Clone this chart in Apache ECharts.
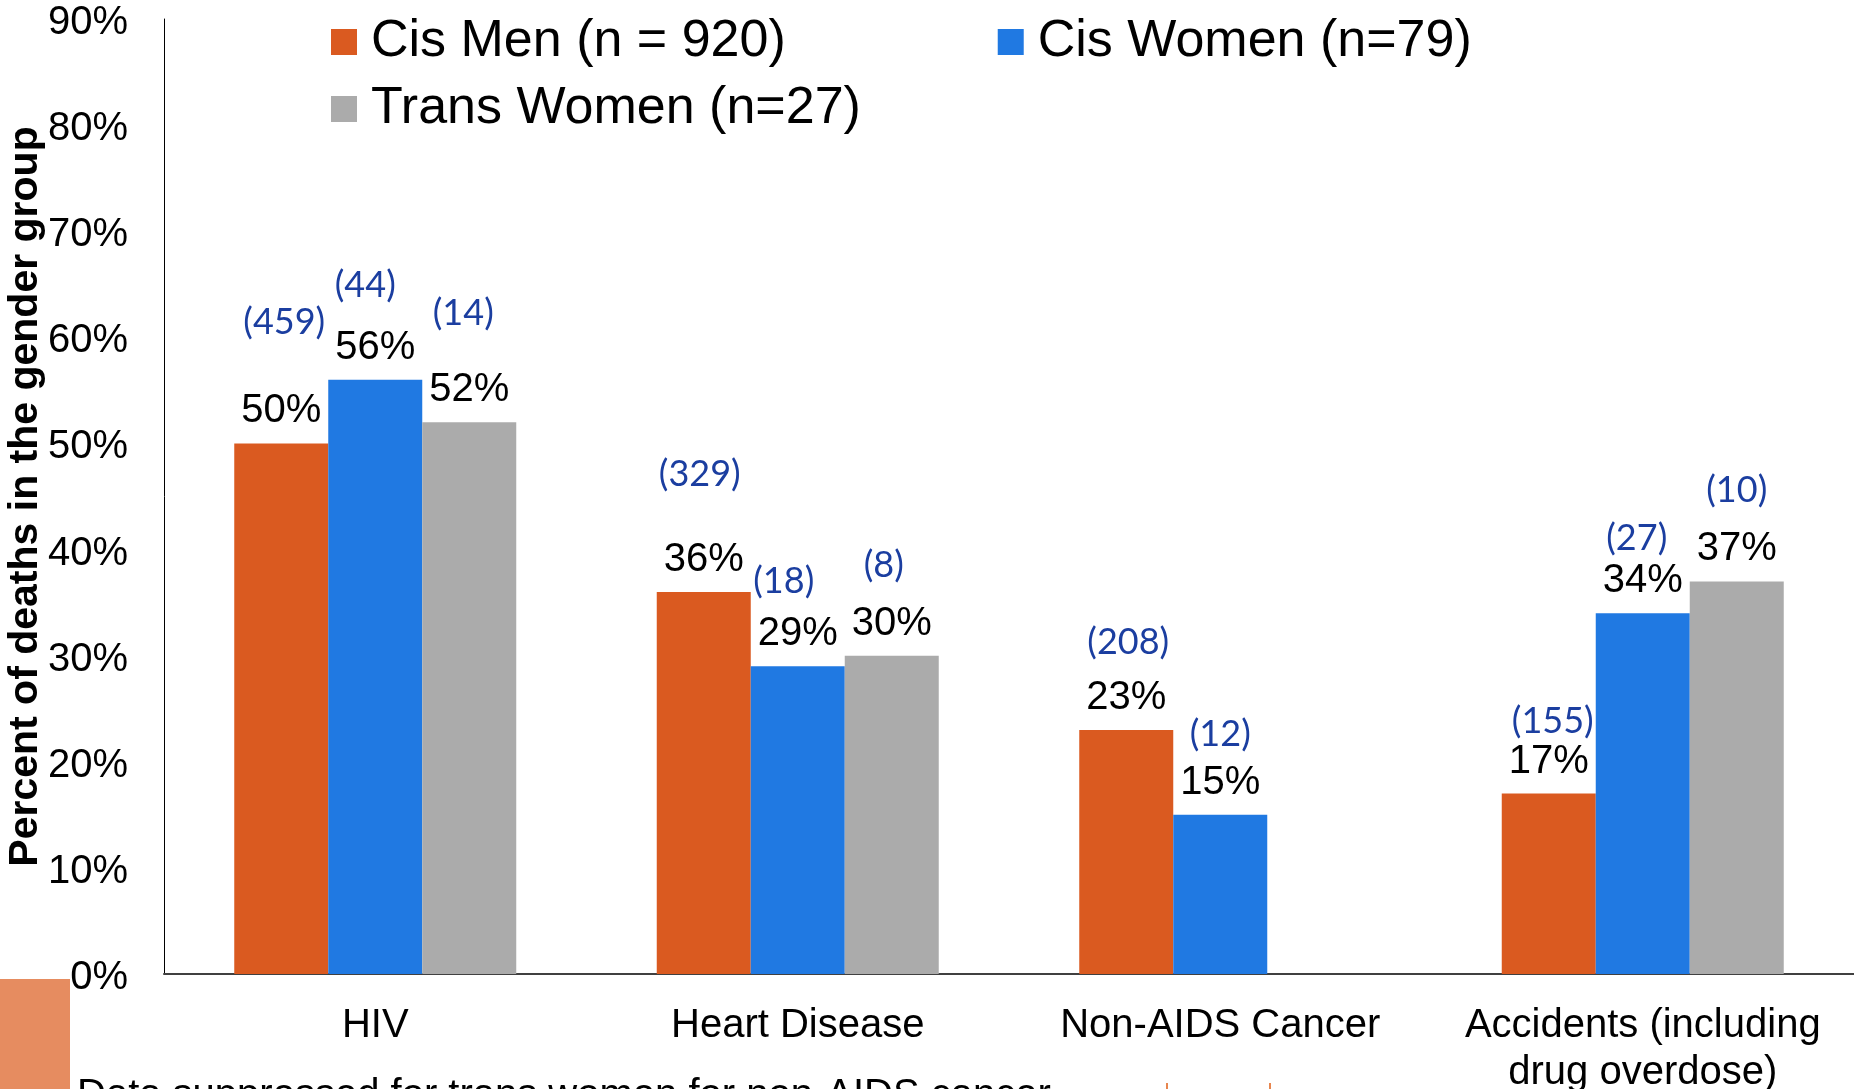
<!DOCTYPE html>
<html>
<head>
<meta charset="utf-8">
<script src="https://cdn.jsdelivr.net/npm/echarts@6/dist/echarts.min.js"></script>
<style>
html,body{margin:0;padding:0;background:#fff;overflow:hidden;}
#chart{width:1854px;height:1089px;}
</style>
</head>
<body>
<div id="chart"></div>
<script>
// ---- data ----
const categories = ['HIV', 'Heart Disease', 'Non-AIDS Cancer', 'Accidents (including\ndrug overdose)'];
const seriesNames = ['Cis Men (n = 920)', 'Cis Women (n=79)', 'Trans Women (n=27)'];
const cisMenPct = [50, 36, 23, 17];
const cisWomenPct = [56, 29, 15, 34];
const transWomenPct = [52, 30, null, 37];
const cisMenCount = [459, 329, 208, 155];
const cisWomenCount = [44, 18, 12, 27];
const transWomenCount = [14, 8, null, 10];
const yTickValues = [0, 10, 20, 30, 40, 50, 60, 70, 80, 90];

// ---- style (label nudges, not data) ----
const countLift = [[87, 84, 54, 38], [60, 51, 46, 41], [75, 56, 0, 57]];
const countShiftX = [[3, -4, 2, 4], [-10, -14, 0, -6], [-6, -8, 0, 0]];
const colors = ['#DA5A20', '#2079E2', '#ABABAB'];
const FONT = "'Liberation Sans', Arial, sans-serif";

const pctData = [cisMenPct, cisWomenPct, transWomenPct];
const countData = [cisMenCount, cisWomenCount, transWomenCount];
const stacks = ['m', 'w', 't'];

const series = [];
pctData.forEach((vals, s) => {
  series.push({
    name: seriesNames[s],
    type: 'bar',
    stack: stacks[s],
    barWidth: 94,
    barGap: '0%',
    itemStyle: { color: colors[s] },
    label: {
      show: true,
      position: 'top',
      distance: 12,
      formatter: p => p.value == null ? '' : p.value + '%',
      fontFamily: FONT,
      fontSize: 40,
      color: '#000'
    },
    data: vals
  });
  series.push({
    name: seriesNames[s] + ' count',
    type: 'bar',
    stack: stacks[s],
    barWidth: 94,
    barGap: '0%',
    itemStyle: { color: 'rgba(0,0,0,0)' },
    silent: true,
    data: countData[s].map((c, i) => c == null ? null : {
      value: 0,
      label: {
        show: true,
        position: 'top',
        distance: 0,
        offset: [countShiftX[s][i], -(16 + countLift[s][i])],
        formatter: '(' + c + ')',
        fontFamily: "Lato, 'Open Sans', sans-serif",
        fontSize: 36,
        color: '#1B3EA0'
      }
    })
  });
});

const chart = echarts.init(document.getElementById('chart'));
chart.setOption({
  animation: false,
  backgroundColor: '#fff',
  grid: { left: 164, right: 0, top: 19, bottom: 115, containLabel: false, outerBoundsMode: 'none' },
  legend: [
    {
      data: [seriesNames[0], seriesNames[1]],
      left: 326, top: 11,
      itemWidth: 26, itemHeight: 26, itemGap: 212,
      icon: 'rect',
      textStyle: { fontFamily: FONT, fontSize: 52, color: '#000', padding: [0, 0, 0, 9] }
    },
    {
      data: [seriesNames[2]],
      left: 326, top: 78,
      itemWidth: 26, itemHeight: 26,
      icon: 'rect',
      textStyle: { fontFamily: FONT, fontSize: 52, color: '#000', padding: [0, 0, 0, 9] }
    }
  ],
  xAxis: {
    type: 'category',
    data: categories,
    axisLine: { show: true, lineStyle: { color: '#404040', width: 2 } },
    axisTick: { show: false },
    axisLabel: { fontFamily: FONT, fontSize: 40, color: '#000', margin: 28, lineHeight: 47, interval: 0 }
  },
  yAxis: {
    type: 'value',
    min: yTickValues[0],
    max: yTickValues[yTickValues.length - 1],
    interval: yTickValues[1] - yTickValues[0],
    name: 'Percent of deaths in the gender group',
    nameLocation: 'middle',
    nameGap: 118,
    nameMoveOverlap: false,
    nameTextStyle: { fontFamily: FONT, fontSize: 41, fontWeight: 'bold', color: '#000' },
    axisLine: { show: true, lineStyle: { color: '#000', width: 1 } },
    axisTick: { show: false },
    splitLine: { show: false },
    axisLabel: {
      formatter: v => '{t|' + v + '%}',
      margin: 36,
      rich: { t: { fontFamily: FONT, fontSize: 40, color: '#000', padding: [8, 0, 0, 0] } }
    }
  },
  graphic: [
    { type: 'rect', left: 0, top: 979, shape: { width: 70, height: 110 }, style: { fill: '#E68C60' }, z: 10 },
    { type: 'text', left: 77, top: 1076, style: { text: 'Data suppressed for trans women for non-AIDS cancer', font: "40px 'Liberation Sans', Arial, sans-serif", fill: '#000' }, z: 10 },
    { type: 'rect', left: 1166, top: 1083, shape: { width: 2, height: 6 }, style: { fill: '#E8864F' }, z: 10 },
    { type: 'rect', left: 1269, top: 1083, shape: { width: 2, height: 6 }, style: { fill: '#E8864F' }, z: 10 }
  ],
  series: series
});
</script>
</body>
</html>
